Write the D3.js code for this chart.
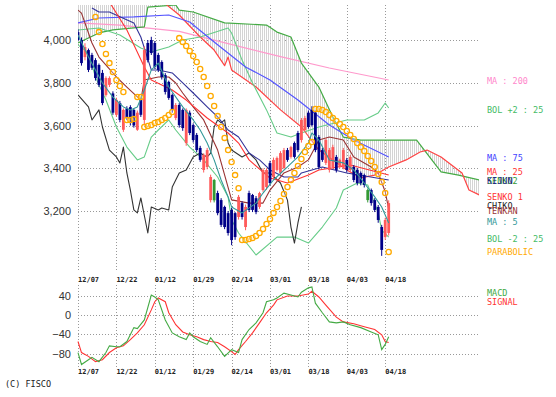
<!DOCTYPE html>
<html>
<head>
<meta charset="utf-8">
<script src="https://cdnjs.cloudflare.com/ajax/libs/d3/7.9.0/d3.min.js"></script>
<style>
  body { margin: 0; background: #fff; }
  svg { display: block; }
</style>
</head>
<body>
<div id="grafico"></div>
<script>
// --- datas (índice de pregão) ---
const datas = ["12/07", "12/22", "01/12", "01/29", "02/14", "03/01", "03/18", "04/03", "04/18"];
const diasDatas = [0, 11, 22, 33, 44, 55, 66, 77, 88];
const ticksPreco = [3200, 3400, 3600, 3800, 4000];
const ticksMacd = [-80, -40, 0, 40];

// velas: [abertura, máxima, mínima, fechamento]
const velas = [
  [4037,4050,3995,4000],[4000,4012,3880,3892],[3920,3985,3905,3967],[3953,3960,3850,3860],
  [3930,3940,3860,3870],[3906,3915,3810,3822],[3883,3890,3780,3790],[3846,3860,3695,3705],
  [3743,3830,3735,3822],[3790,3830,3780,3822],[3750,3760,3650,3660],[3650,3730,3640,3720],
  [3705,3715,3615,3626],[3580,3680,3570,3673],[3680,3690,3625,3635],[3686,3695,3600,3612],
  [3673,3680,3590,3600],[3580,3670,3575,3660],[3720,3730,3640,3650],[3626,3970,3600,3953],
  [3986,4000,3895,3906],[4000,4015,3930,3939],[3986,3995,3865,3874],[3930,3940,3850,3860],
  [3897,3905,3815,3827],[3836,3845,3745,3757],[3804,3810,3720,3729],[3743,3750,3660,3673],
  [3635,3705,3625,3696],[3696,3705,3590,3602],[3673,3680,3575,3588],[3518,3680,3505,3673],
  [3660,3670,3555,3565],[3602,3610,3520,3532],[3556,3565,3475,3485],[3495,3505,3430,3439],
  [3392,3470,3380,3462],[3406,3495,3395,3485],[3251,3370,3240,3359],[3345,3350,3240,3250],
  [3284,3295,3180,3190],[3251,3260,3125,3135],[3219,3225,3115,3125],[3190,3200,3085,3097],
  [3205,3215,3040,3064],[3190,3195,3065,3078],[3172,3275,3160,3266],[3237,3245,3160,3172],
  [3125,3230,3110,3219],[3284,3295,3195,3205],[3275,3280,3195,3205],[3260,3270,3185,3195],
  [3219,3290,3210,3284],[3298,3400,3290,3392],[3312,3400,3300,3392],[3424,3435,3320,3331],
  [3359,3450,3350,3439],[3392,3455,3385,3448],[3378,3480,3370,3471],[3401,3495,3395,3485],
  [3485,3495,3430,3439],[3453,3505,3445,3499],[3518,3525,3445,3453],[3565,3575,3475,3485],
  [3532,3635,3520,3626],[3579,3645,3570,3635],[3660,3670,3585,3593],[3673,3690,3595,3602],
  [3660,3670,3475,3485],[3546,3555,3395,3406],[3485,3495,3430,3439],[3425,3540,3415,3532],
  [3392,3495,3380,3485],[3406,3510,3395,3499],[3453,3462,3380,3392],[3406,3445,3400,3439],
  [3406,3495,3395,3485],[3439,3448,3380,3392],[3392,3462,3385,3453],[3406,3415,3335,3345],
  [3392,3400,3320,3331],[3378,3385,3320,3331],[3368,3375,3310,3322],[3298,3305,3240,3251],
  [3298,3305,3225,3237],[3251,3260,3195,3205],[3219,3228,3145,3158],[3125,3135,2990,3018],
  [3078,3168,3065,3158],[3097,3250,3085,3237]
];
const diasVerdes = [39, 83]; // pregões sem variação (vela verde)

// linhas: [dia, valor]
const ma5 = [[0,4023],[3,3920],[5,3860],[7,3799],[10,3733],[13,3687],[15,3673],[17,3687],[19,3766],
  [21,3860],[23,3892],[26,3780],[30,3687],[33,3626],[35,3579],[37,3518],[39,3439],[41,3345],
  [43,3266],[44,3219],[47,3191],[51,3237],[53,3284],[56,3345],[60,3406],[63,3453],[66,3518],
  [67,3565],[69,3532],[72,3439],[76,3425],[79,3392],[82,3331],[85,3266],[87,3219],[89,3144]];
const ma25 = [[4,4260],[9,4178],[14,4047],[19,3874],[21,3813],[27,3766],[31,3719],[37,3635],
  [43,3565],[46,3518],[49,3439],[55,3354],[60,3331],[66,3368],[69,3392],[78,3415],[89,3368]];
const ma75 = [[0,4080],[6,4103],[16,4108],[26,4117],[32,4084],[39,3991],[48,3874],[55,3813],
  [63,3719],[72,3602],[79,3532],[89,3453]];
const ma200 = [[0,4080],[12,4070],[29,4040],[45,3975],[58,3922],[72,3869],[89,3813]];
const bolSup = [[0,4047],[6,4056],[12,4023],[18,3963],[21,3944],[26,3967],[30,4000],[35,4014],
  [43,4056],[44,4033],[47,3906],[50,3799],[54,3673],[57,3565],[61,3546],[64,3565],[69,3593],
  [77,3626],[82,3626],[86,3659],[88,3705],[89,3682]];
const bolInf = [[0,3977],[3,3939],[5,3827],[8,3719],[11,3593],[14,3499],[17,3439],[19,3453],
  [21,3546],[23,3579],[26,3626],[28,3579],[32,3499],[36,3439],[40,3359],[43,3266],[44,3158],
  [46,3097],[51,2994],[57,3078],[62,3078],[66,3050],[70,3125],[74,3214],[76,3298],[80,3331],
  [83,3322],[86,3191],[87,3111],[89,3078]];
const tenkan = [[0,4140],[1,4126],[4,3986],[6,3920],[11,3827],[14,3780],[18,3719],[19,3813],
  [23,3827],[26,3827],[28,3799],[30,3752],[33,3687],[36,3626],[40,3485],[44,3252],[49,3237],
  [53,3237],[55,3298],[59,3378],[63,3406],[66,3439],[69,3532],[72,3546],[76,3532],[79,3453],
  [84,3406],[86,3378],[88,3290],[89,3210]];
const kijun = [[4,4150],[6,4131],[9,4131],[16,4080],[18,4014],[21,3860],[23,3860],[27,3846],
  [30,3799],[33,3752],[37,3687],[40,3640],[43,3579],[46,3546],[49,3471],[52,3439],[55,3392],
  [59,3359],[63,3359],[64,3378],[70,3406],[77,3378],[89,3345]];
const senko1 = [[0,4230],[15,4220],[25,4170],[29,4117],[35,4014],[39,3953],[42,3880],[43,3920],
  [44,3860],[51,3780],[58,3673],[64,3593],[69,3485],[77,3392],[81,3355],[85,3368],[89,3406],
  [94,3439],[98,3476],[100,3485],[104,3453],[110,3378],[112,3298],[115,3275]];
const senko2 = [[0,3986],[6,4033],[10,4047],[19,4061],[20,4154],[28,4164],[29,4140],[33,4131],
  [42,4080],[54,4070],[57,4037],[61,4014],[64,3892],[69,3780],[73,3640],[76,3546],[81,3532],
  [97,3532],[104,3383],[109,3368],[115,3345]];
const chiko = [[0,3743],[3,3687],[4,3626],[6,3673],[7,3593],[9,3485],[11,3453],[12,3425],
  [13,3499],[14,3378],[15,3298],[16,3205],[17,3191],[18,3261],[20,3097],[21,3219],[23,3205],
  [24,3214],[26,3205],[27,3312],[29,3378],[31,3392],[33,3453],[35,3471],[37,3453],[38,3471],
  [39,3593],[40,3626],[41,3612],[42,3626],[43,3518],[44,3485],[47,3453],[49,3471],[51,3439],
  [53,3378],[55,3378],[58,3331],[60,3251],[61,3125],[62,3050],[63,3144],[64,3219]];
const parabolica = [
  [5,4108],[6,4037],[7,3981],[8,3935],[9,3892],[10,3850],[11,3813],[12,3785],[13,3757],
  [14,3626],[15,3626],[16,3630],[17,3733],[18,3733],
  [19,3593],[20,3598],[21,3602],[22,3612],[23,3616],[24,3626],[25,3635],[26,3649],[27,3663],
  [29,4009],[30,3991],[31,3972],[32,3949],[33,3925],[34,3897],[35,3864],[36,3827],[37,3785],
  [38,3738],[39,3691],[40,3644],[41,3593],[42,3542],[43,3485],[44,3429],[45,3368],[46,3307],
  [47,3064],[48,3064],[49,3069],[50,3074],[51,3083],[52,3097],[53,3116],[54,3139],[55,3163],
  [56,3191],[57,3219],[58,3247],[59,3280],[60,3312],[61,3345],[62,3378],[63,3411],[64,3443],
  [65,3476],[66,3504],[67,3523],
  [68,3677],[69,3677],[70,3673],[71,3663],[72,3649],[73,3635],[74,3621],[75,3607],[76,3593],
  [77,3574],[78,3556],[79,3537],[80,3518],[81,3499],[82,3481],[83,3457],[84,3434],[85,3406],
  [86,3373],[87,3336],[88,3284],[89,3008]];
const macd = [[0,-78],[1,-103],[3,-93],[4,-88],[6,-97],[8,-78],[9,-64],[11,-66],[12,-66],[14,-55],
  [16,-26],[17,-28],[19,-10],[21,42],[22,38],[23,32],[25,-10],[27,-37],[29,-45],[31,-51],[32,-37],
  [33,-45],[35,-55],[37,-61],[38,-47],[40,-66],[42,-86],[44,-72],[46,-78],[47,-51],[49,-30],
  [51,-16],[53,5],[54,28],[56,32],[57,36],[59,46],[61,42],[63,38],[64,48],[66,57],[67,59],[68,25],
  [70,5],[72,-14],[74,-16],[76,-14],[78,-20],[81,-26],[84,-35],[86,-41],[87,-72],[88,-61],[89,-45]];
const sinal = [[0,-55],[1,-78],[3,-86],[5,-97],[7,-93],[9,-78],[11,-68],[13,-64],[15,-51],[17,-37],
  [19,-20],[21,11],[22,28],[23,36],[25,28],[26,5],[28,-20],[30,-35],[32,-41],[34,-45],[36,-51],
  [38,-55],[40,-57],[42,-66],[44,-76],[45,-82],[46,-72],[48,-55],[50,-37],[52,-16],[54,5],[56,21],
  [57,32],[60,40],[63,40],[66,44],[67,50],[69,38],[71,21],[74,-4],[76,-14],[79,-18],[82,-24],
  [85,-30],[87,-41],[88,-55],[89,-57]];

// legendas: [texto, cor, y]
const legendas = [
  ["MA : 200", "#ff88cc", 81], ["BOL +2 : 25", "#44bb66", 110], ["MA : 75", "#4444ff", 158],
  ["MA : 25", "#ff3333", 172], ["SENKO2", "#339933", 181], ["KIJUN", "#222288", 181],
  ["SENKO 1", "#ff3333", 197], ["CHIKO", "#222222", 206], ["TENKAN", "#993333", 211],
  ["MA : 5", "#339999", 222], ["BOL -2 : 25", "#44bb66", 239], ["PARABOLIC", "#ffaa00", 252]
];

const W = 556, H = 397;
const svg = d3.select("#grafico").append("svg")
  .attr("width", W).attr("height", H)
  .style("font-family", "'DejaVu Sans Mono', monospace");

const x = d3.scaleLinear().domain([0, 88]).range([78, 385.2]);
const y = d3.scaleLinear().domain([3200, 4000]).range([211, 40]);
const yM = d3.scaleLinear().domain([-80, 40]).range([353.5, 296]);

const topo = 5, base = 272, dir = 479;
const topoM = 285, baseM = 367;

// clip da área do gráfico
const defs = svg.append("defs");
defs.append("clipPath").attr("id", "clipPrincipal")
  .append("rect").attr("x", 78).attr("y", topo).attr("width", dir - 78).attr("height", base - topo);
const hach = defs.append("pattern").attr("id", "hachura")
  .attr("patternUnits", "userSpaceOnUse").attr("width", 2).attr("height", 4);
hach.append("rect").attr("x", 0).attr("y", 0).attr("width", 1).attr("height", 4).attr("fill", "#d4d4d4");

// --- grade principal ---
const grade = svg.append("g").attr("stroke", "#999").attr("stroke-dasharray", "1,2").attr("stroke-width", 1);
ticksPreco.forEach(v => grade.append("line")
  .attr("x1", 78).attr("x2", dir).attr("y1", Math.round(y(v)) + 0.5).attr("y2", Math.round(y(v)) + 0.5));
diasDatas.forEach(d => grade.append("line")
  .attr("x1", Math.round(x(d)) + 0.5).attr("x2", Math.round(x(d)) + 0.5).attr("y1", topo).attr("y2", base));

// eixo y preços
const eixoY = svg.append("g").attr("transform", "translate(74,0)")
  .call(d3.axisLeft(y).tickValues(ticksPreco).tickFormat(d3.format(",")).tickSize(0));
eixoY.select(".domain").remove();
eixoY.selectAll("text").attr("font-family", "'Liberation Sans', sans-serif")
  .attr("font-size", 11).attr("fill", "#333");

// rótulos de data
function rotulosDatas(yy) {
  const g = svg.append("g");
  diasDatas.forEach((d, i) => g.append("text")
    .attr("x", x(d)).attr("y", yy).attr("font-size", 7).attr("font-weight", "bold")
    .attr("fill", "#222").text(datas[i]));
}
rotulosDatas(282);
rotulosDatas(374);

// --- área de desenho recortada ---
const area = svg.append("g").attr("clip-path", "url(#clipPrincipal)");

// nuvem (kumo) hachurada entre senko 1 e senko 2
const poligono = senko1.map(p => [x(p[0]), y(p[1])])
  .concat(senko2.slice().reverse().map(p => [x(p[0]), y(p[1])]));
area.append("path")
  .attr("d", "M" + poligono.join("L") + "Z")
  .attr("fill", "url(#hachura)").attr("fill-rule", "evenodd");

const linha = d3.line().x(d => x(d[0])).y(d => y(d[1]));
function desenhaLinha(dados, cor, largura) {
  area.append("path").datum(dados).attr("d", linha)
    .attr("fill", "none").attr("stroke", cor).attr("stroke-width", largura || 1)
    .attr("stroke-linejoin", "round");
}

desenhaLinha(ma200, "#ff99cc", 1.2);
desenhaLinha(senko2, "#44aa44", 1.2);
desenhaLinha(senko1, "#ff4444", 1.2);
desenhaLinha(bolSup, "#66cc88", 1.1);
desenhaLinha(bolInf, "#66cc88", 1.1);
desenhaLinha(ma75, "#5555ff", 1.2);
desenhaLinha(chiko, "#333333", 1.1);
desenhaLinha(kijun, "#333399", 1.1);
desenhaLinha(tenkan, "#993333", 1.1);
desenhaLinha(ma25, "#ff3333", 1.1);

// velas
const gVelas = area.append("g");
velas.forEach((v, i) => {
  const [ab, mx, mn, fe] = v;
  const cor = diasVerdes.includes(i) ? "#339933" : (fe >= ab ? "#ff5a5a" : "#000088");
  gVelas.append("line").attr("x1", x(i)).attr("x2", x(i)).attr("y1", y(mx)).attr("y2", y(mn))
    .attr("stroke", cor).attr("stroke-width", 1);
  gVelas.append("rect").attr("x", x(i) - 1.4).attr("width", 2.8)
    .attr("y", y(Math.max(ab, fe))).attr("height", Math.max(1, Math.abs(y(ab) - y(fe))))
    .attr("fill", cor);
});

desenhaLinha(ma5, "#339999", 1.1);

// parabólica
area.append("g").selectAll("circle").data(parabolica).join("circle")
  .attr("cx", d => x(d[0])).attr("cy", d => y(d[1])).attr("r", 2.6)
  .attr("fill", "#fff").attr("fill-opacity", 0.3)
  .attr("stroke", "#ffaa00").attr("stroke-width", 1.3);

// legendas à direita
legendas.forEach(([t, c, yy]) => svg.append("text")
  .attr("x", 487).attr("y", yy + 3).attr("font-size", 8.5).attr("fill", c).text(t));

// --- painel MACD ---
const gradeM = svg.append("g").attr("stroke", "#999").attr("stroke-dasharray", "1,2");
ticksMacd.forEach(v => gradeM.append("line")
  .attr("x1", 78).attr("x2", dir).attr("y1", Math.round(yM(v)) + 0.5).attr("y2", Math.round(yM(v)) + 0.5));
diasDatas.forEach(d => gradeM.append("line")
  .attr("x1", Math.round(x(d)) + 0.5).attr("x2", Math.round(x(d)) + 0.5).attr("y1", topoM).attr("y2", baseM));

const eixoM = svg.append("g").attr("transform", "translate(74,0)")
  .call(d3.axisLeft(yM).tickValues(ticksMacd).tickSize(0));
eixoM.select(".domain").remove();
eixoM.selectAll("text").attr("font-family", "'Liberation Sans', sans-serif")
  .attr("font-size", 11).attr("fill", "#333");

const linhaM = d3.line().x(d => x(d[0])).y(d => yM(d[1]));
svg.append("path").datum(sinal).attr("d", linhaM).attr("fill", "none")
  .attr("stroke", "#ff3333").attr("stroke-width", 1.1);
svg.append("path").datum(macd).attr("d", linhaM).attr("fill", "none")
  .attr("stroke", "#44aa44").attr("stroke-width", 1.1);

svg.append("text").attr("x", 487).attr("y", 296).attr("font-size", 8.5).attr("fill", "#44aa44").text("MACD");
svg.append("text").attr("x", 487).attr("y", 305).attr("font-size", 8.5).attr("fill", "#ff3333").text("SIGNAL");

svg.append("text").attr("x", 5).attr("y", 387).attr("font-size", 8.5).attr("fill", "#222").text("(C) FISCO");
</script>
</body>
</html>
